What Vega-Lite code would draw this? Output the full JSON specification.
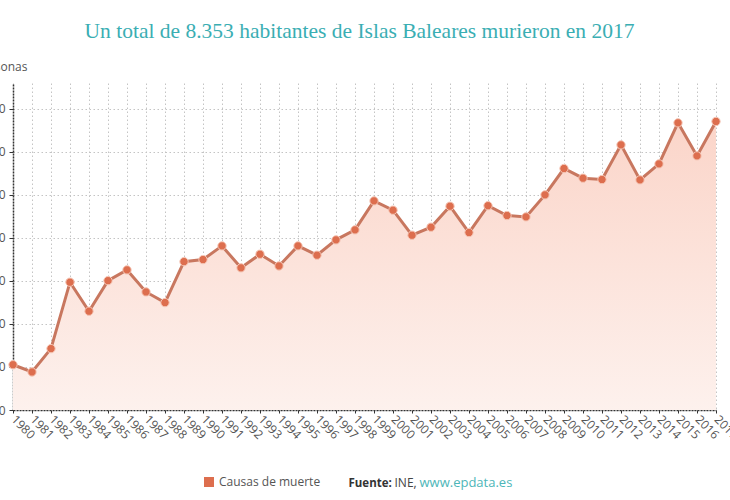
{
  "$schema": "https://vega.github.io/schema/vega-lite/v6.json",
  "width": 703,
  "height": 327,
  "autosize": {"type": "none"},
  "padding": {"left": 13, "top": 83, "right": 14, "bottom": 90},
  "background": "white",
  "title": {
    "text": "Un total de 8.353 habitantes de Islas Baleares murieron en 2017",
    "font": "Liberation Serif",
    "fontSize": 21.5,
    "fontWeight": "normal",
    "color": "#3aaeb3",
    "anchor": "middle",
    "dx": -5,
    "offset": 18
  },
  "config": {
    "view": {"stroke": null},
    "font": "Open Sans",
    "axis": {"labelFont": "Open Sans", "titleFont": "Open Sans"}
  },
  "data": {
    "values": [
      {"year": 1980, "value": 5526, "serie": "Causas de muerte"},
      {"year": 1981, "value": 5442, "serie": "Causas de muerte"},
      {"year": 1982, "value": 5713, "serie": "Causas de muerte"},
      {"year": 1983, "value": 6485, "serie": "Causas de muerte"},
      {"year": 1984, "value": 6148, "serie": "Causas de muerte"},
      {"year": 1985, "value": 6503, "serie": "Causas de muerte"},
      {"year": 1986, "value": 6628, "serie": "Causas de muerte"},
      {"year": 1987, "value": 6372, "serie": "Causas de muerte"},
      {"year": 1988, "value": 6248, "serie": "Causas de muerte"},
      {"year": 1989, "value": 6724, "serie": "Causas de muerte"},
      {"year": 1990, "value": 6748, "serie": "Causas de muerte"},
      {"year": 1991, "value": 6907, "serie": "Causas de muerte"},
      {"year": 1992, "value": 6652, "serie": "Causas de muerte"},
      {"year": 1993, "value": 6810, "serie": "Causas de muerte"},
      {"year": 1994, "value": 6674, "serie": "Causas de muerte"},
      {"year": 1995, "value": 6907, "serie": "Causas de muerte"},
      {"year": 1996, "value": 6799, "serie": "Causas de muerte"},
      {"year": 1997, "value": 6977, "serie": "Causas de muerte"},
      {"year": 1998, "value": 7093, "serie": "Causas de muerte"},
      {"year": 1999, "value": 7430, "serie": "Causas de muerte"},
      {"year": 2000, "value": 7322, "serie": "Causas de muerte"},
      {"year": 2001, "value": 7031, "serie": "Causas de muerte"},
      {"year": 2002, "value": 7124, "serie": "Causas de muerte"},
      {"year": 2003, "value": 7368, "serie": "Causas de muerte"},
      {"year": 2004, "value": 7062, "serie": "Causas de muerte"},
      {"year": 2005, "value": 7374, "serie": "Causas de muerte"},
      {"year": 2006, "value": 7260, "serie": "Causas de muerte"},
      {"year": 2007, "value": 7244, "serie": "Causas de muerte"},
      {"year": 2008, "value": 7500, "serie": "Causas de muerte"},
      {"year": 2009, "value": 7806, "serie": "Causas de muerte"},
      {"year": 2010, "value": 7694, "serie": "Causas de muerte"},
      {"year": 2011, "value": 7678, "serie": "Causas de muerte"},
      {"year": 2012, "value": 8081, "serie": "Causas de muerte"},
      {"year": 2013, "value": 7674, "serie": "Causas de muerte"},
      {"year": 2014, "value": 7860, "serie": "Causas de muerte"},
      {"year": 2015, "value": 8337, "serie": "Causas de muerte"},
      {"year": 2016, "value": 7953, "serie": "Causas de muerte"},
      {"year": 2017, "value": 8353, "serie": "Causas de muerte"}
    ]
  },
  "resolve": {"axis": {"x": "independent", "y": "independent"}},
  "layer": [
    {
      "mark": {
        "type": "area",
        "color": {
          "gradient": "linear",
          "x1": 0, "y1": 0, "x2": 0, "y2": 1,
          "stops": [
            {"offset": 0, "color": "#fbd5c9"},
            {"offset": 1, "color": "#fdf1ed"}
          ]
        }
      },
      "encoding": {
        "x": {
          "field": "year",
          "type": "ordinal",
          "scale": {"type": "point", "padding": 0},
          "axis": {
            "orient": "bottom",
            "title": null,
            "labelAngle": 45,
            "labelAlign": "left",
            "labelBaseline": "middle",
            "labelFontSize": 12,
            "labelColor": "#555",
            "labelPadding": 4,
            "labelOverlap": false,
            "labelBound": false,
            "grid": true,
            "gridColor": "#c4c4c4",
            "gridDash": [1.5, 2.5],
            "gridWidth": 1,
            "domainColor": "#333",
            "domainDash": [2, 1],
            "domainWidth": 1.5,
            "tickColor": "#333",
            "tickSize": 3
          }
        },
        "y": {
          "field": "value",
          "type": "quantitative",
          "scale": {"domain": [5000, 8800], "nice": false, "zero": false},
          "axis": {
            "orient": "left",
            "values": [5000, 5500, 6000, 6500, 7000, 7500, 8000, 8500],
            "format": "d",
            "title": "Personas",
            "titleAngle": 0,
            "titleAlign": "right",
            "titleBaseline": "middle",
            "titleX": 14,
            "titleY": -17,
            "titleFontSize": 12,
            "titleFontWeight": "normal",
            "titleColor": "#555",
            "labelFontSize": 12,
            "labelColor": "#555",
            "labelPadding": 4,
            "grid": true,
            "gridColor": "#c4c4c4",
            "gridDash": [1.5, 2.5],
            "gridWidth": 1,
            "domainColor": "#333",
            "domainDash": [2, 1],
            "domainWidth": 1.5,
            "tickColor": "#333",
            "tickSize": 4
          }
        },
        "y2": {"datum": 5000}
      }
    },
    {
      "mark": {"type": "line", "color": "#c8775f", "strokeWidth": 3},
      "encoding": {
        "x": {
          "field": "year",
          "type": "ordinal",
          "axis": {
            "orient": "bottom",
            "labels": false, "ticks": false, "domain": false, "grid": false,
            "title": "Fuente:",
            "titleX": 335,
            "titleY": 76,
            "titleAlign": "left",
            "titleBaseline": "alphabetic",
            "titleFontSize": 11.5,
            "titleFontWeight": "bold",
            "titleColor": "#333"
          }
        },
        "y": {
          "field": "value",
          "type": "quantitative",
          "axis": {
            "orient": "right",
            "labels": false, "ticks": false, "domain": false, "grid": false,
            "title": "www.epdata.es",
            "titleAngle": 0,
            "titleX": -297,
            "titleY": 403,
            "titleAlign": "left",
            "titleBaseline": "alphabetic",
            "titleFontSize": 13,
            "titleFontWeight": "normal",
            "titleColor": "#4db6b8"
          }
        }
      }
    },
    {
      "mark": {"type": "point", "filled": true, "opacity": 1, "size": 70, "stroke": "#f6c8b8", "strokeWidth": 1},
      "encoding": {
        "x": {
          "field": "year",
          "type": "ordinal",
          "axis": {
            "orient": "bottom",
            "labels": false, "ticks": false, "domain": false, "grid": false,
            "title": "INE,",
            "titleX": 381,
            "titleY": 76,
            "titleAlign": "left",
            "titleBaseline": "alphabetic",
            "titleFontSize": 12,
            "titleFontWeight": "normal",
            "titleColor": "#444"
          }
        },
        "y": {"field": "value", "type": "quantitative", "axis": null},
        "color": {
          "field": "serie",
          "type": "nominal",
          "scale": {"range": ["#dd6e4e"]},
          "legend": {
            "title": null,
            "orient": "none",
            "legendX": 190,
            "legendY": 393,
            "symbolType": "square",
            "symbolSize": 100,
            "symbolStrokeWidth": 0,
            "symbolFillColor": "#e8725a",
            "labelFontSize": 12,
            "labelColor": "#555",
            "labelOffset": 4,
            "padding": 0
          }
        }
      }
    }
  ]
}
